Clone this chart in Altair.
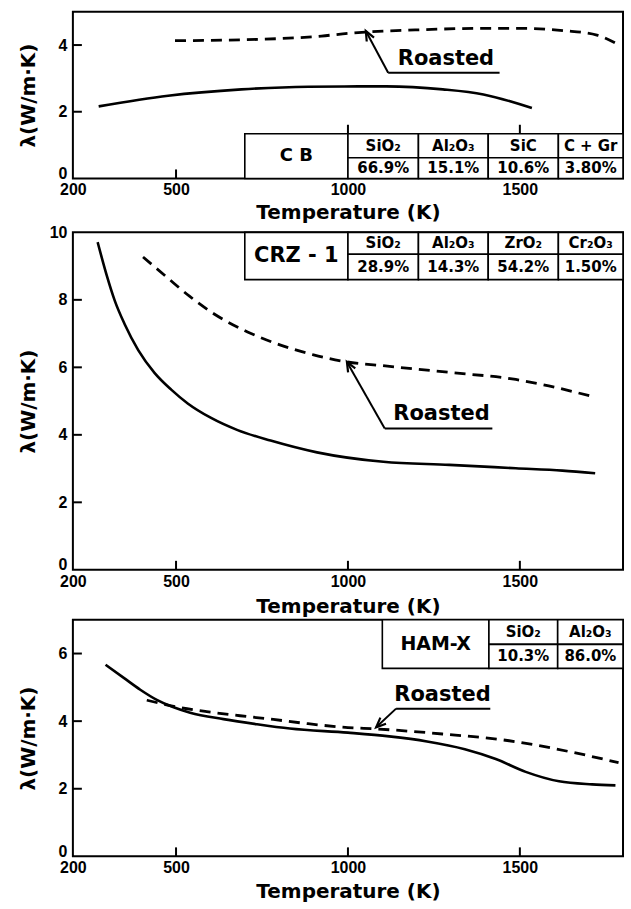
import math
import altair as alt
import pandas as pd

# ---------------- data ----------------
X_TICKS = [200, 500, 1000, 1500]
ROASTED = "Roasted"
X_TITLE = "Temperature (K)"
Y_TITLE = "λ(W/m·K)"

# Panel 1 : CB
CB_NAME = "C B"
CB_COMPONENTS = ["SiO₂", "Al₂O₃", "SiC", "C + Gr"]
CB_PERCENTS = ["66.9%", "15.1%", "10.6%", "3.80%"]
CB_Y_TICKS = [0, 2, 4]
CB_SOLID_T = [275, 477, 690, 885, 1030, 1111, 1276, 1394, 1535]
CB_SOLID_L = [2.16, 2.48, 2.67, 2.75, 2.76, 2.76, 2.67, 2.52, 2.11]
CB_ROAST_T = [497, 739, 923, 1001, 1217, 1394, 1513, 1630, 1724, 1783]
CB_ROAST_L = [4.13, 4.17, 4.27, 4.35, 4.46, 4.50, 4.50, 4.43, 4.30, 4.03]

# Panel 2 : CRZ-1
CRZ_NAME = "CRZ - 1"
CRZ_COMPONENTS = ["SiO₂", "Al₂O₃", "ZrO₂", "Cr₂O₃"]
CRZ_PERCENTS = ["28.9%", "14.3%", "54.2%", "1.50%"]
CRZ_Y_TICKS = [0, 2, 4, 6, 8, 10]
CRZ_SOLID_T = [272, 298, 322, 351, 390, 438, 486, 534, 602, 679, 775, 910,
               1103, 1295, 1488, 1624, 1719]
CRZ_SOLID_L = [9.71, 8.74, 7.97, 7.27, 6.51, 5.83, 5.34, 4.93, 4.50, 4.14, 3.83,
               3.48, 3.20, 3.11, 3.01, 2.94, 2.86]
CRZ_ROAST_T = [404, 470, 540, 611, 708, 804, 900, 997, 1100, 1295, 1488, 1584, 1705]
CRZ_ROAST_L = [9.27, 8.70, 8.10, 7.58, 7.05, 6.66, 6.37, 6.16, 6.05, 5.85, 5.64,
               5.45, 5.15]

# Panel 3 : HAM-X
HAM_NAME = "HAM-X"
HAM_COMPONENTS = ["SiO₂", "Al₂O₃"]
HAM_PERCENTS = ["10.3%", "86.0%"]
HAM_Y_TICKS = [0, 2, 4, 6]
HAM_SOLID_T = [295, 348, 396, 444, 493, 541, 638, 734, 831, 1000, 1120, 1230,
               1340, 1430, 1517, 1614, 1710, 1778]
HAM_SOLID_L = [5.67, 5.28, 4.93, 4.63, 4.41, 4.25, 4.06, 3.91, 3.78, 3.66, 3.55,
               3.40, 3.17, 2.88, 2.50, 2.22, 2.13, 2.10]
HAM_ROAST_T = [415, 512, 589, 686, 783, 879, 1000, 1082, 1275, 1469, 1662, 1787]
HAM_ROAST_L = [4.62, 4.40, 4.28, 4.16, 4.05, 3.93, 3.81, 3.77, 3.62, 3.42, 3.06, 2.77]

# ---------------- layout (positions / sizes) ----------------
T_MIN, T_MAX = 200, 1800
PLOT_W = 551
TXT_FONT = "DejaVu Sans"
NUM_FONT = "Liberation Sans"

CB_LAYOUT = dict(height=167, y_max=5,
                 cols=[700, 1000, 1205, 1408, 1612, 1800], rows=[0, 0.62, 1.34],
                 name_size=18, tip=(1052, 4.42), tail=(1117, 3.17), line_end=1441,
                 label_t=1285, top_ticks=[1000, 1500], x_label_pad=3, x_title_pad=5)
CRZ_LAYOUT = dict(height=338, y_max=10,
                  cols=[700, 1000, 1205, 1408, 1612, 1800], rows=[8.6, 9.35, 10.0],
                  name_size=21, tip=(997, 6.16), tail=(1107, 4.19), line_end=1420,
                  label_t=1272, top_ticks=[], x_label_pad=4, x_title_pad=7)
HAM_LAYOUT = dict(height=237, y_max=7,
                  cols=[1100, 1410, 1610, 1800], rows=[5.56, 6.27, 7.0],
                  name_size=19, tip=(1082, 3.82), tail=(1140, 4.37), line_end=1414,
                  label_t=1275, top_ticks=[], x_label_pad=3, x_title_pad=6)


def panel(name, comps, pcts, y_ticks, solid_t, solid_l, roast_t, roast_l, lay):
    H = lay["height"]
    ymax = lay["y_max"]
    xs = alt.Scale(domain=[T_MIN, T_MAX], nice=False, zero=False)
    ys = alt.Scale(domain=[0, ymax], nice=False, zero=False)
    xa = alt.Axis(values=X_TICKS, title=X_TITLE, format="d",
                  labelPadding=lay["x_label_pad"], titlePadding=lay["x_title_pad"])
    ya = alt.Axis(values=y_ticks, title=Y_TITLE, format="d",
                  labelBaseline={"condition": {"test": "datum.value == 0",
                                               "value": "alphabetic"},
                                 "value": "middle"})

    def X(f):
        return alt.X(f"{f}:Q", scale=xs, axis=xa)

    def Y(f):
        return alt.Y(f"{f}:Q", scale=ys, axis=ya)

    px_t = PLOT_W / (T_MAX - T_MIN)
    px_l = H / ymax
    layers = []

    # inward ticks
    xt = pd.DataFrame({"t": X_TICKS[1:]})
    layers.append(alt.Chart(xt).mark_rule(color="black", strokeWidth=2).encode(
        x=X("t"), y=alt.value(H), y2=alt.value(H - 9)))
    yt = pd.DataFrame({"l": [v for v in y_ticks if 0 < v < ymax]})
    layers.append(alt.Chart(yt).mark_rule(color="black", strokeWidth=2).encode(
        y=Y("l"), x=alt.value(0), x2=alt.value(9)))

    # table frame
    cols, rows = lay["cols"], lay["rows"]
    cells = [{"x0": cols[0], "x1": cols[1], "y0": rows[0], "y1": rows[2]}]
    for i in range(len(comps)):
        cells.append({"x0": cols[i + 1], "x1": cols[i + 2], "y0": rows[1], "y1": rows[2]})
        cells.append({"x0": cols[i + 1], "x1": cols[i + 2], "y0": rows[0], "y1": rows[1]})
    layers.append(alt.Chart(pd.DataFrame(cells)).mark_rect(
        fill="white", stroke="black", strokeWidth=1.6).encode(
        x=X("x0"), x2="x1", y=Y("y0"), y2="y1"))

    if lay["top_ticks"]:
        tt = pd.DataFrame({"t": lay["top_ticks"], "l0": rows[2], "l1": rows[2] + 9 / px_l})
        layers.append(alt.Chart(tt).mark_rule(color="black", strokeWidth=2).encode(
            x=X("t"), y=Y("l0"), y2="l1"))

    # curves
    sdf = pd.DataFrame({"t": solid_t, "l": solid_l})
    layers.append(alt.Chart(sdf).mark_line(
        color="black", strokeWidth=2.6, interpolate="monotone").encode(x=X("t"), y=Y("l")))
    rdf = pd.DataFrame({"t": roast_t, "l": roast_l})
    layers.append(alt.Chart(rdf).mark_line(
        color="black", strokeWidth=2.8, strokeDash=[11, 7], interpolate="monotone").encode(
        x=X("t"), y=Y("l")))

    # "Roasted" annotation
    tip, tail = lay["tip"], lay["tail"]
    ann = pd.DataFrame({"t0": [tail[0]], "l0": [tail[1]], "t1": [tip[0]], "l1": [tip[1]],
                        "t2": [lay["line_end"]], "tl": [lay["label_t"]], "txt": [ROASTED]})
    layers.append(alt.Chart(ann).mark_rule(color="black", strokeWidth=2).encode(
        x=X("t0"), y=Y("l0"), x2="t1", y2="l1"))
    layers.append(alt.Chart(ann).mark_rule(color="black", strokeWidth=2).encode(
        x=X("t0"), y=Y("l0"), x2="t2"))
    dx = (tip[0] - tail[0]) * px_t
    dy = (tip[1] - tail[1]) * px_l
    ang = math.degrees(math.atan2(dx, dy)) % 360
    layers.append(alt.Chart(ann).mark_point(
        shape="M-0.6,1.4L0,0L0.6,1.4", filled=False, stroke="black", strokeWidth=2.2,
        size=190, angle=ang, opacity=1).encode(x=X("t1"), y=Y("l1")))
    layers.append(alt.Chart(ann).mark_text(
        font=TXT_FONT, fontWeight="bold", fontSize=21, color="black",
        baseline="bottom", dy=-4).encode(x=X("tl"), y=Y("l0"), text="txt:N"))

    # table texts
    ndf = pd.DataFrame({"cx": [(cols[0] + cols[1]) / 2], "cy": [(rows[0] + rows[2]) / 2],
                        "txt": [name]})
    layers.append(alt.Chart(ndf).mark_text(
        font=TXT_FONT, fontWeight="bold", fontSize=lay["name_size"], color="black").encode(
        x=X("cx"), y=Y("cy"), text="txt:N"))
    centers = [(cols[i + 1] + cols[i + 2]) / 2 for i in range(len(comps))]
    hdf = pd.DataFrame({"cx": centers, "cy": (rows[1] + rows[2]) / 2, "txt": comps})
    layers.append(alt.Chart(hdf).mark_text(
        font=TXT_FONT, fontWeight="bold", fontSize=15, color="black").encode(
        x=X("cx"), y=Y("cy"), text="txt:N"))
    vdf = pd.DataFrame({"cx": centers, "cy": (rows[0] + rows[1]) / 2, "txt": pcts})
    layers.append(alt.Chart(vdf).mark_text(
        font=TXT_FONT, fontWeight="bold", fontSize=15, color="black").encode(
        x=X("cx"), y=Y("cy"), text="txt:N"))

    return alt.layer(*layers).properties(width=PLOT_W, height=H)


p1 = panel(CB_NAME, CB_COMPONENTS, CB_PERCENTS, CB_Y_TICKS,
           CB_SOLID_T, CB_SOLID_L, CB_ROAST_T, CB_ROAST_L, CB_LAYOUT)
p2 = panel(CRZ_NAME, CRZ_COMPONENTS, CRZ_PERCENTS, CRZ_Y_TICKS,
           CRZ_SOLID_T, CRZ_SOLID_L, CRZ_ROAST_T, CRZ_ROAST_L, CRZ_LAYOUT)
p3 = panel(HAM_NAME, HAM_COMPONENTS, HAM_PERCENTS, HAM_Y_TICKS,
           HAM_SOLID_T, HAM_SOLID_L, HAM_ROAST_T, HAM_ROAST_L, HAM_LAYOUT)

chart = alt.vconcat(p1, p2, p3, spacing=0).properties(
    padding={"left": 18, "top": 10, "right": 5, "bottom": 2},
    background="white",
).configure_view(
    stroke="black", strokeWidth=2
).configure_axis(
    domain=False, ticks=False, tickSize=0, grid=False,
    labelFont=NUM_FONT, labelFontSize=16, labelFontWeight="bold", labelColor="black",
    titleFont=TXT_FONT, titleFontSize=20, titleFontWeight="bold", titleColor="black",
).configure_axisX(
    labelFlush=False
).configure_axisY(
    labelPadding=6, minExtent=26, maxExtent=26, titlePadding=8
)

chart.save("out.html", embed_options={"renderer": "svg", "actions": False})
